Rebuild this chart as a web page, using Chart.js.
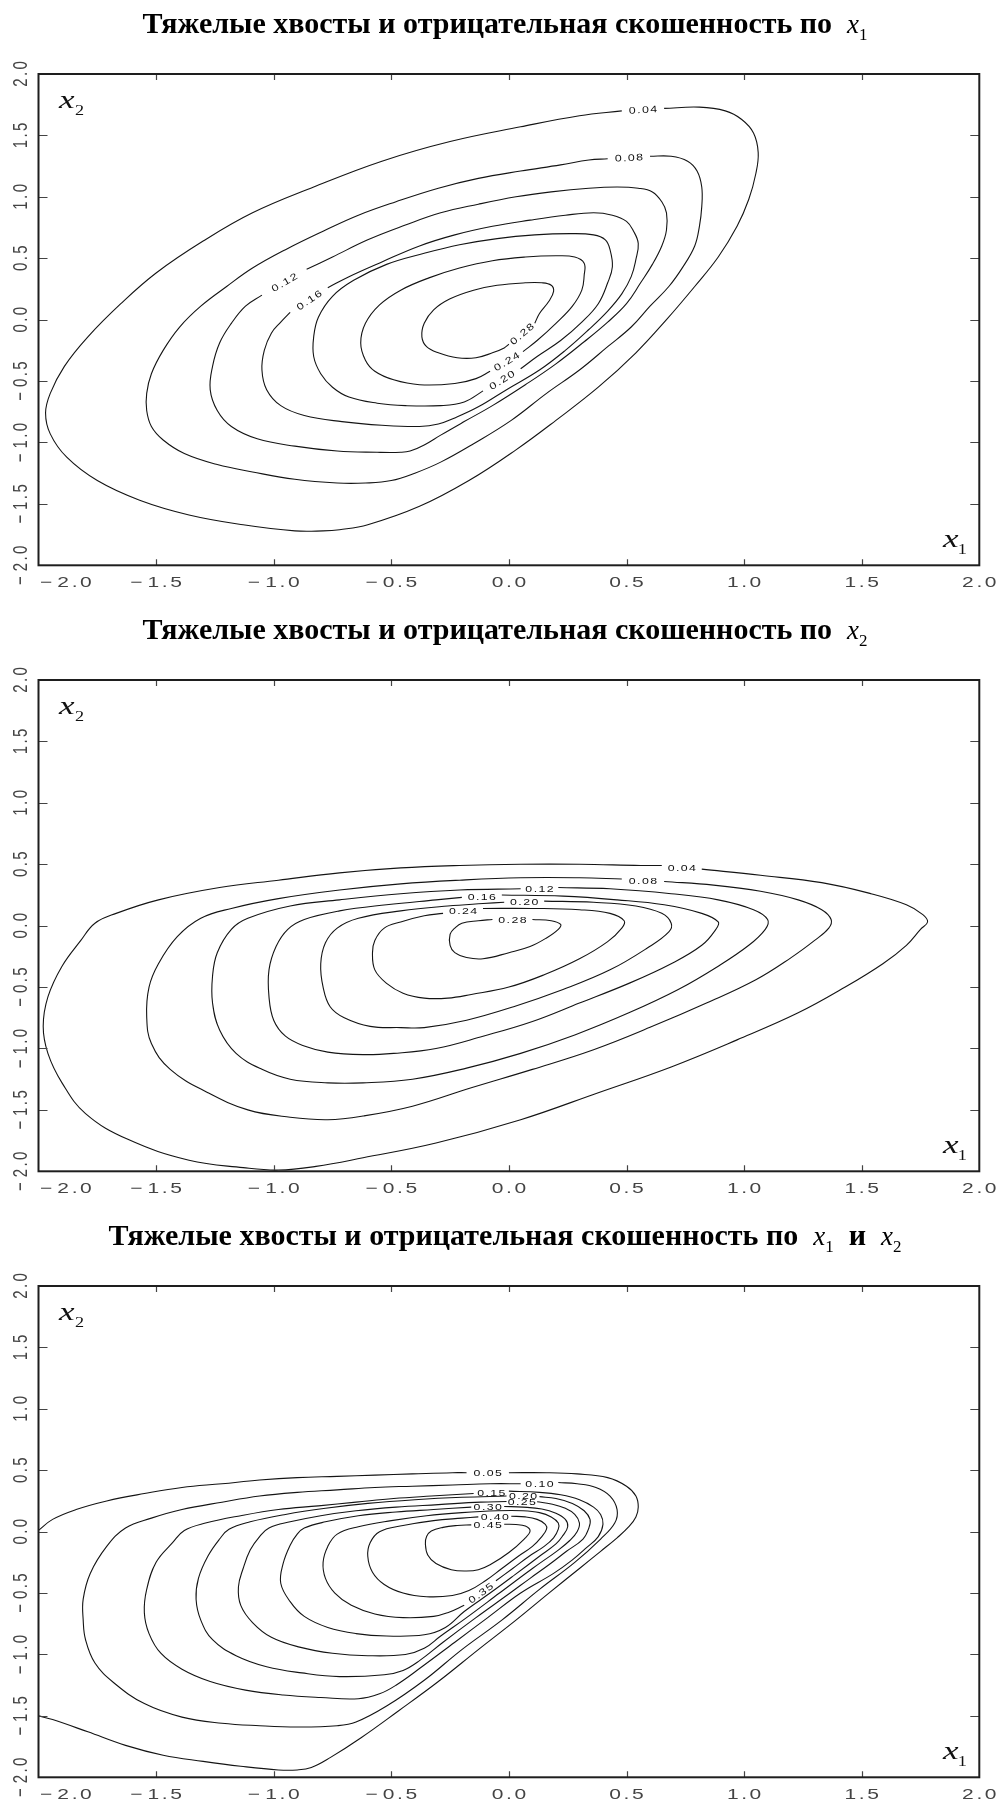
<!DOCTYPE html>
<html>
<head>
<meta charset="utf-8">
<script src="https://cdn.jsdelivr.net/npm/chart.js@4"></script>
<style>
  html, body { margin: 0; padding: 0; background: #fff; overflow: hidden; }
  .panel { position: absolute; left: 0; width: 1003px; height: 606px; }
  canvas { display: block; }
</style>
</head>
<body>
<div class="panel" style="top:0"><canvas id="c1" width="1003" height="606"></canvas></div>
<div class="panel" style="top:606px"><canvas id="c2" width="1003" height="606"></canvas></div>
<div class="panel" style="top:1212px"><canvas id="c3" width="1003" height="606"></canvas></div>
<script>
// Axis ticks shared by all three panels
const tickValues = [-2, -1.5, -1, -0.5, 0, 0.5, 1, 1.5, 2];
const tickLabels = ['−2.0', '−1.5', '−1.0', '−0.5', '0.0', '0.5', '1.0', '1.5', '2.0'];

const titleText = 'Тяжелые хвосты и отрицательная скошенность по';

// ---------- Panel 1: density contours, skew in x1 (levels 0.04 ... 0.28) ----------
const p1_04 = [[0.66,1.72],[0.81,1.73],[0.92,1.70],[0.99,1.63],[1.04,1.52],[1.06,1.36],[1.05,1.19],[1.02,0.98],[0.97,0.76],[0.89,0.51],[0.79,0.27],[0.67,0.00],[0.54,-0.27],[0.38,-0.55],[0.20,-0.82],[0.03,-1.06],[-0.17,-1.31],[-0.38,-1.52],[-0.60,-1.67],[-0.72,-1.71],[-0.79,-1.72],[-0.91,-1.72],[-1.13,-1.67],[-1.36,-1.59],[-1.57,-1.47],[-1.75,-1.31],[-1.88,-1.12],[-1.95,-0.93],[-1.97,-0.76],[-1.95,-0.60],[-1.89,-0.38],[-1.79,-0.14],[-1.65,0.13],[-1.50,0.38],[-1.30,0.64],[-1.09,0.87],[-0.83,1.08],[-0.54,1.29],[-0.25,1.45],[0.05,1.57],[0.30,1.66],[0.48,1.70]];
const p1_08 = [[0.60,1.33],[0.69,1.33],[0.76,1.29],[0.80,1.21],[0.82,1.08],[0.82,0.92],[0.81,0.76],[0.79,0.60],[0.74,0.43],[0.68,0.27],[0.60,0.11],[0.52,-0.06],[0.42,-0.22],[0.30,-0.41],[0.16,-0.60],[0.01,-0.82],[-0.15,-1.01],[-0.29,-1.16],[-0.40,-1.25],[-0.50,-1.31],[-0.61,-1.33],[-0.73,-1.33],[-0.91,-1.30],[-1.09,-1.24],[-1.24,-1.18],[-1.38,-1.09],[-1.47,-0.98],[-1.52,-0.87],[-1.54,-0.74],[-1.54,-0.60],[-1.52,-0.44],[-1.47,-0.25],[-1.40,-0.06],[-1.31,0.11],[-1.20,0.27],[-1.09,0.42],[-0.95,0.57],[-0.79,0.72],[-0.64,0.85],[-0.48,0.96],[-0.30,1.07],[-0.13,1.15],[0.05,1.21],[0.22,1.26],[0.34,1.30],[0.42,1.31]];
const p1_12 = [[-0.86,0.41],[-0.75,0.51],[-0.60,0.65],[-0.44,0.77],[-0.29,0.87],[-0.13,0.94],[0.03,1.00],[0.18,1.04],[0.34,1.07],[0.46,1.08],[0.55,1.07],[0.61,1.04],[0.65,0.96],[0.67,0.87],[0.67,0.73],[0.65,0.60],[0.61,0.45],[0.56,0.30],[0.50,0.13],[0.42,-0.02],[0.32,-0.18],[0.20,-0.36],[0.07,-0.53],[-0.07,-0.70],[-0.19,-0.83],[-0.29,-0.94],[-0.36,-1.02],[-0.42,-1.07],[-0.46,-1.08],[-0.56,-1.08],[-0.73,-1.07],[-0.91,-1.03],[-1.07,-0.97],[-1.18,-0.87],[-1.24,-0.74],[-1.27,-0.57],[-1.26,-0.38],[-1.23,-0.19],[-1.18,-0.03],[-1.12,0.11],[-1.05,0.20]];
const p1_16 = [[-0.77,0.26],[-0.68,0.35],[-0.54,0.47],[-0.38,0.60],[-0.23,0.69],[-0.07,0.76],[0.09,0.81],[0.24,0.85],[0.36,0.87],[0.44,0.85],[0.50,0.80],[0.53,0.72],[0.55,0.62],[0.54,0.49],[0.52,0.35],[0.48,0.21],[0.42,0.07],[0.34,-0.08],[0.24,-0.25],[0.13,-0.41],[-0.01,-0.57],[-0.13,-0.71],[-0.23,-0.80],[-0.30,-0.85],[-0.38,-0.87],[-0.54,-0.86],[-0.71,-0.83],[-0.87,-0.78],[-0.97,-0.70],[-1.03,-0.57],[-1.05,-0.41],[-1.04,-0.25],[-1.01,-0.11],[-0.97,-0.02],[-0.93,0.06]];
const p1_20 = [[0.05,-0.40],[0.12,-0.30],[0.22,-0.17],[0.31,-0.02],[0.38,0.13],[0.42,0.30],[0.44,0.43],[0.43,0.57],[0.41,0.65],[0.36,0.69],[0.26,0.70],[0.11,0.69],[-0.05,0.66],[-0.21,0.61],[-0.36,0.54],[-0.52,0.45],[-0.66,0.32],[-0.75,0.19],[-0.81,0.02],[-0.83,-0.14],[-0.83,-0.30],[-0.80,-0.44],[-0.75,-0.55],[-0.68,-0.63],[-0.56,-0.68],[-0.44,-0.70],[-0.29,-0.70],[-0.19,-0.67],[-0.11,-0.58]];
const p1_24 = [[0.06,-0.26],[0.12,-0.17],[0.20,-0.03],[0.27,0.11],[0.31,0.24],[0.32,0.36],[0.32,0.46],[0.28,0.51],[0.20,0.52],[0.07,0.51],[-0.07,0.48],[-0.21,0.42],[-0.34,0.34],[-0.46,0.24],[-0.55,0.12],[-0.61,-0.03],[-0.63,-0.19],[-0.61,-0.33],[-0.57,-0.42],[-0.49,-0.49],[-0.38,-0.53],[-0.23,-0.52],[-0.14,-0.48],[-0.08,-0.42]];
const p1_28 = [[0.11,-0.03],[0.13,0.05],[0.17,0.15],[0.19,0.23],[0.18,0.28],[0.14,0.30],[0.07,0.30],[-0.05,0.28],[-0.15,0.24],[-0.25,0.17],[-0.32,0.08],[-0.36,-0.03],[-0.37,-0.14],[-0.35,-0.22],[-0.30,-0.27],[-0.22,-0.31],[-0.14,-0.31],[-0.07,-0.27],[-0.02,-0.23],[0.00,-0.20]];
// level text, anchor (x1, x2), text angle in degrees
const p1Labels = [['0.04',0.57,1.71,-3.5],['0.08',0.51,1.32,-2.5],['0.12',-0.955,0.305,-30],['0.16',-0.85,0.16,-34],['0.20',-0.03,-0.49,-32],['0.24',-0.01,-0.34,-31],['0.28',0.055,-0.115,-40]];

// ---------- Panel 2: skew in x2 (levels 0.04 ... 0.28) ----------
const p2_04 = [[0.82,0.46],[1.07,0.41],[1.33,0.35],[1.54,0.26],[1.69,0.17],[1.76,0.09],[1.78,0.03],[1.75,-0.03],[1.69,-0.16],[1.59,-0.31],[1.43,-0.50],[1.23,-0.71],[0.97,-0.93],[0.69,-1.15],[0.38,-1.36],[0.05,-1.58],[-0.31,-1.77],[-0.62,-1.89],[-0.82,-1.96],[-0.98,-1.99],[-1.13,-1.97],[-1.36,-1.91],[-1.62,-1.74],[-1.80,-1.53],[-1.90,-1.28],[-1.96,-1.04],[-1.98,-0.82],[-1.96,-0.58],[-1.90,-0.33],[-1.82,-0.12],[-1.76,0.02],[-1.67,0.10],[-1.49,0.21],[-1.23,0.31],[-0.98,0.37],[-0.72,0.43],[-0.46,0.47],[-0.21,0.49],[0.05,0.50],[0.30,0.50],[0.56,0.49],[0.65,0.49]];
const p2_08 = [[0.66,0.36],[0.87,0.33],[1.07,0.28],[1.23,0.21],[1.33,0.13],[1.37,0.05],[1.36,-0.02],[1.30,-0.12],[1.20,-0.26],[1.05,-0.44],[0.84,-0.63],[0.61,-0.82],[0.36,-1.01],[0.10,-1.17],[-0.16,-1.32],[-0.41,-1.47],[-0.62,-1.55],[-0.77,-1.58],[-0.93,-1.56],[-1.11,-1.50],[-1.28,-1.36],[-1.44,-1.17],[-1.52,-0.96],[-1.54,-0.74],[-1.53,-0.50],[-1.49,-0.31],[-1.41,-0.09],[-1.31,0.06],[-1.18,0.14],[-0.98,0.22],[-0.72,0.29],[-0.46,0.34],[-0.21,0.37],[0.05,0.39],[0.30,0.39],[0.48,0.38]];
const p2_12 = [[0.21,0.31],[0.43,0.30],[0.69,0.26],[0.89,0.21],[1.04,0.13],[1.10,0.05],[1.09,-0.03],[1.02,-0.16],[0.89,-0.33],[0.72,-0.52],[0.51,-0.71],[0.28,-0.89],[0.05,-1.04],[-0.18,-1.16],[-0.41,-1.25],[-0.62,-1.28],[-0.77,-1.28],[-0.93,-1.25],[-1.05,-1.17],[-1.16,-1.04],[-1.23,-0.85],[-1.26,-0.63],[-1.26,-0.41],[-1.24,-0.22],[-1.18,-0.03],[-1.11,0.06],[-0.93,0.16],[-0.72,0.21],[-0.46,0.26],[-0.21,0.29],[0.05,0.30]];
const p2_16 = [[-0.03,0.25],[0.23,0.24],[0.46,0.21],[0.66,0.17],[0.82,0.10],[0.89,0.03],[0.88,-0.03],[0.82,-0.16],[0.69,-0.31],[0.51,-0.47],[0.30,-0.63],[0.10,-0.78],[-0.11,-0.90],[-0.31,-1.00],[-0.49,-1.04],[-0.62,-1.05],[-0.77,-1.03],[-0.87,-0.98],[-0.95,-0.90],[-1.00,-0.77],[-1.02,-0.58],[-1.02,-0.36],[-0.99,-0.17],[-0.94,-0.03],[-0.87,0.05],[-0.72,0.12],[-0.52,0.17],[-0.31,0.21],[-0.20,0.23]];
const p2_20 = [[0.15,0.20],[0.36,0.19],[0.54,0.16],[0.65,0.10],[0.69,0.02],[0.68,-0.05],[0.59,-0.18],[0.43,-0.36],[0.23,-0.52],[0.02,-0.66],[-0.18,-0.77],[-0.36,-0.83],[-0.46,-0.83],[-0.59,-0.82],[-0.70,-0.75],[-0.76,-0.66],[-0.79,-0.50],[-0.80,-0.31],[-0.78,-0.14],[-0.73,-0.02],[-0.64,0.06],[-0.46,0.12],[-0.26,0.16],[-0.11,0.18],[-0.02,0.19]];
const p2_24 = [[-0.11,0.14],[0.10,0.14],[0.30,0.13],[0.43,0.10],[0.49,0.04],[0.48,-0.02],[0.42,-0.13],[0.30,-0.27],[0.15,-0.40],[0.00,-0.50],[-0.16,-0.56],[-0.26,-0.59],[-0.36,-0.59],[-0.45,-0.55],[-0.52,-0.47],[-0.57,-0.36],[-0.58,-0.22],[-0.57,-0.12],[-0.53,-0.02],[-0.46,0.03],[-0.36,0.08],[-0.28,0.10]];
const p2_28 = [[0.10,0.05],[0.18,0.04],[0.22,0.01],[0.21,-0.03],[0.16,-0.10],[0.09,-0.17],[0.00,-0.22],[-0.11,-0.27],[-0.18,-0.26],[-0.23,-0.22],[-0.25,-0.16],[-0.25,-0.07],[-0.23,-0.02],[-0.20,0.02],[-0.13,0.04],[-0.07,0.05]];
const p2Labels = [['0.04',0.735,0.475,0],['0.08',0.57,0.37,0],['0.12',0.13,0.305,0],['0.16',-0.115,0.24,0],['0.20',0.065,0.195,0],['0.24',-0.195,0.12,0],['0.28',0.015,0.05,0]];

// ---------- Panel 3: skew in x1 and x2 (levels 0.05 ... 0.45) ----------
const p3_05a = [[0.00,0.48],[0.16,0.48],[0.29,0.47],[0.42,0.44],[0.50,0.37],[0.54,0.29],[0.55,0.20],[0.54,0.12],[0.51,0.04],[0.46,-0.05],[0.39,-0.16],[0.30,-0.30],[0.17,-0.50],[0.03,-0.72],[-0.13,-0.96],[-0.30,-1.22],[-0.47,-1.46],[-0.63,-1.68],[-0.76,-1.84],[-0.84,-1.92],[-0.90,-1.94],[-0.98,-1.94],[-1.14,-1.91],[-1.30,-1.87],[-1.47,-1.82],[-1.63,-1.74],[-1.79,-1.63],[-1.94,-1.53],[-2.00,-1.50]];
const p3_05b = [[-2.00,0.01],[-1.94,0.10],[-1.84,0.18],[-1.71,0.25],[-1.55,0.31],[-1.39,0.36],[-1.22,0.39],[-1.06,0.42],[-0.90,0.44],[-0.73,0.45],[-0.57,0.46],[-0.41,0.47],[-0.24,0.48],[-0.18,0.48]];
const p3_10 = [[0.21,0.40],[0.29,0.39],[0.37,0.36],[0.43,0.29],[0.46,0.18],[0.45,0.07],[0.39,-0.06],[0.28,-0.25],[0.13,-0.47],[-0.03,-0.72],[-0.20,-0.96],[-0.36,-1.21],[-0.52,-1.42],[-0.65,-1.55],[-0.73,-1.58],[-0.90,-1.59],[-1.06,-1.58],[-1.22,-1.56],[-1.39,-1.51],[-1.55,-1.40],[-1.68,-1.23],[-1.76,-1.07],[-1.80,-0.88],[-1.81,-0.72],[-1.81,-0.55],[-1.78,-0.34],[-1.71,-0.12],[-1.63,0.03],[-1.52,0.11],[-1.39,0.18],[-1.22,0.24],[-1.06,0.29],[-0.90,0.32],[-0.73,0.34],[-0.57,0.36],[-0.41,0.37],[-0.24,0.38],[-0.08,0.39],[0.05,0.39]];
const p3_15 = [[0.00,0.33],[0.13,0.32],[0.22,0.30],[0.30,0.26],[0.36,0.20],[0.39,0.14],[0.40,0.06],[0.38,-0.04],[0.33,-0.13],[0.27,-0.23],[0.19,-0.34],[0.05,-0.50],[-0.09,-0.70],[-0.23,-0.90],[-0.37,-1.10],[-0.48,-1.25],[-0.55,-1.32],[-0.64,-1.36],[-0.80,-1.35],[-0.96,-1.33],[-1.12,-1.29],[-1.27,-1.22],[-1.39,-1.12],[-1.48,-0.99],[-1.53,-0.83],[-1.55,-0.66],[-1.54,-0.47],[-1.50,-0.25],[-1.43,-0.09],[-1.38,0.01],[-1.29,0.07],[-1.14,0.13],[-0.98,0.18],[-0.81,0.21],[-0.65,0.24],[-0.49,0.27],[-0.33,0.29],[-0.15,0.31]];
const p3_20 = [[0.13,0.285],[0.20,0.27],[0.27,0.23],[0.32,0.17],[0.345,0.10],[0.34,0.03],[0.315,-0.06],[0.245,-0.16],[0.17,-0.27],[0.09,-0.38],[0.005,-0.50],[-0.14,-0.70],[-0.28,-0.90],[-0.38,-1.05],[-0.45,-1.13],[-0.53,-1.165],[-0.72,-1.18],[-0.88,-1.15],[-1.03,-1.10],[-1.16,-1.01],[-1.26,-0.88],[-1.31,-0.72],[-1.33,-0.55],[-1.32,-0.38],[-1.28,-0.20],[-1.23,-0.06],[-1.19,0.02],[-1.10,0.08],[-0.95,0.14],[-0.78,0.19],[-0.60,0.23],[-0.40,0.26],[-0.20,0.28],[-0.01,0.29]];
const p3_25 = [[0.12,0.243],[0.18,0.225],[0.24,0.19],[0.28,0.14],[0.30,0.07],[0.29,0.00],[0.26,-0.07],[0.21,-0.15],[0.10,-0.30],[-0.04,-0.50],[-0.18,-0.70],[-0.29,-0.85],[-0.36,-0.95],[-0.44,-1.00],[-0.60,-1.01],[-0.75,-0.99],[-0.89,-0.94],[-1.01,-0.86],[-1.09,-0.74],[-1.14,-0.60],[-1.15,-0.45],[-1.13,-0.30],[-1.10,-0.15],[-1.06,-0.04],[-1.02,0.03],[-0.93,0.08],[-0.80,0.13],[-0.65,0.17],[-0.48,0.20],[-0.30,0.22],[-0.12,0.24],[-0.01,0.245]];
const p3_30 = [[-0.02,0.205],[0.06,0.20],[0.14,0.185],[0.20,0.15],[0.24,0.10],[0.25,0.04],[0.23,-0.03],[0.20,-0.10],[0.13,-0.20],[0.026,-0.35],[-0.08,-0.50],[-0.19,-0.65],[-0.27,-0.78],[-0.36,-0.84],[-0.52,-0.85],[-0.65,-0.83],[-0.77,-0.78],[-0.87,-0.69],[-0.93,-0.57],[-0.97,-0.42],[-0.96,-0.26],[-0.93,-0.11],[-0.90,-0.02],[-0.87,0.03],[-0.78,0.08],[-0.64,0.13],[-0.48,0.16],[-0.32,0.18],[-0.16,0.20]];
const p3_35 = [[-0.055,-0.40],[0.016,-0.30],[0.086,-0.20],[0.15,-0.12],[0.19,-0.05],[0.21,0.02],[0.21,0.07],[0.18,0.12],[0.13,0.155],[0.06,0.17],[-0.05,0.17],[-0.20,0.155],[-0.35,0.13],[-0.50,0.09],[-0.64,0.04],[-0.73,-0.02],[-0.77,-0.12],[-0.79,-0.25],[-0.78,-0.38],[-0.74,-0.50],[-0.67,-0.60],[-0.57,-0.67],[-0.45,-0.70],[-0.32,-0.69],[-0.26,-0.66],[-0.19,-0.60]];
const p3_40 = [[0.01,0.125],[0.07,0.12],[0.12,0.10],[0.155,0.06],[0.16,0.02],[0.14,-0.04],[0.10,-0.12],[0.04,-0.20],[-0.03,-0.30],[-0.10,-0.40],[-0.17,-0.48],[-0.24,-0.52],[-0.35,-0.53],[-0.45,-0.50],[-0.53,-0.43],[-0.58,-0.33],[-0.60,-0.20],[-0.59,-0.09],[-0.55,0.00],[-0.45,0.05],[-0.32,0.09],[-0.20,0.11],[-0.13,0.12]];
const p3_45 = [[-0.02,0.06],[0.03,0.058],[0.07,0.045],[0.09,0.005],[0.065,-0.06],[0.00,-0.17],[-0.08,-0.27],[-0.13,-0.31],[-0.18,-0.32],[-0.245,-0.31],[-0.31,-0.26],[-0.345,-0.19],[-0.355,-0.10],[-0.35,-0.04],[-0.33,0.005],[-0.28,0.035],[-0.22,0.05],[-0.16,0.055]];
const p3Labels = [['0.05',-0.09,0.48,0],['0.10',0.13,0.395,0],['0.15',-0.075,0.32,0],['0.20',0.06,0.29,0],['0.25',0.055,0.243,0],['0.30',-0.09,0.20,0],['0.35',-0.12,-0.50,-36],['0.40',-0.06,0.12,0],['0.45',-0.09,0.058,0]];

// Draw a string character by character with extra tracking and a stretch factor.
function spaced(ctx, str, cx, cy, o) {
  const sx = o.sx || 1, sy = o.sy || 1;
  ctx.save();
  ctx.font = o.font;
  const chars = Array.from(str);
  const w = chars.map(ch => ctx.measureText(ch).width);
  const adv = chars.map((ch, i) => w[i] + (i < chars.length - 1 ? ((o.gap || 0) + (ch === '−' ? (o.minusGap || 0) : 0)) / sx : 0));
  const total = adv.reduce((s, v) => s + v, 0);
  let px = cx;
  if (o.minLeft !== undefined && !o.rot && o.align !== 'left') {
    px = Math.max(cx, o.minLeft + total * sx / 2);
  }
  ctx.translate(px, cy);
  if (o.rot) ctx.rotate(o.rot);
  ctx.scale(sx, sy);
  ctx.fillStyle = o.color || '#222';
  ctx.textAlign = 'left';
  ctx.textBaseline = 'alphabetic';
  let x = o.align === 'left' ? 0 : -total / 2;
  const base = o.capH ? o.capH / 2 : 0;
  chars.forEach((ch, i) => { ctx.fillText(ch, x, base); x += adv[i]; });
  ctx.restore();
  return total * sx;
}

const titleFonts = {
  b: 'bold 30px "Liberation Serif"',
  i: 'italic 27px "Liberation Serif"',
  s: '17px "Liberation Serif"'
};

function makeDecor(labels, title) {
  return {
    id: 'decor',
    afterDatasetsDraw(chart) {
      const { ctx, chartArea: a } = chart;
      const xs = chart.scales.x, ys = chart.scales.y;

      // contour level labels
      labels.forEach(l => {
        spaced(ctx, l[0], xs.getPixelForValue(l[1]), ys.getPixelForValue(l[2]), {
          font: '9.5px "Liberation Sans"', sx: 1.3, gap: 1.4, capH: 6.8,
          rot: (l[3] || 0) * Math.PI / 180, color: '#111'
        });
      });

      // inward tick marks on all four sides
      ctx.save();
      ctx.strokeStyle = '#444';
      ctx.lineWidth = 1.2;
      ctx.beginPath();
      tickValues.forEach(v => {
        if (v <= -2 || v >= 2) return;
        const px = Math.round(xs.getPixelForValue(v)) + 0.5;
        ctx.moveTo(px, a.bottom); ctx.lineTo(px, a.bottom - 6);
        ctx.moveTo(px, a.top); ctx.lineTo(px, a.top + 6);
        const py = Math.round(ys.getPixelForValue(v)) + 0.5;
        ctx.moveTo(a.left, py); ctx.lineTo(a.left + 9, py);
        ctx.moveTo(a.right, py); ctx.lineTo(a.right - 9, py);
      });
      ctx.stroke();

      // frame
      ctx.strokeStyle = '#1e1e1e';
      ctx.lineWidth = 2;
      ctx.strokeRect(a.left, a.top, a.right - a.left, a.bottom - a.top);
      ctx.restore();

      // tick labels
      tickValues.forEach((v, i) => {
        spaced(ctx, tickLabels[i], xs.getPixelForValue(v), a.bottom + 16.4, {
          font: '15px "Liberation Sans"', sx: 1.4, gap: 2.6, minusGap: 2.5, capH: 10.7,
          color: '#444', minLeft: a.left + 1.5
        });
        spaced(ctx, tickLabels[i], 19.5, ys.getPixelForValue(v), {
          font: '15px "Liberation Sans"', sx: 1, sy: 1.4, gap: 2.4, minusGap: 2.5, capH: 10.7,
          color: '#444', rot: -Math.PI / 2
        });
      });

      // axis names
      spaced(ctx, 'x', a.left + 20.5, a.top + 34.3, { font: 'italic 26px "Liberation Serif"', sx: 1.35, align: 'left', color: '#111' });
      spaced(ctx, '2', a.left + 36.5, a.top + 41.3, { font: '14px "Liberation Serif"', sx: 1.3, align: 'left', color: '#111' });
      spaced(ctx, 'x', a.right - 36.3, a.bottom - 18.3, { font: 'italic 26px "Liberation Serif"', sx: 1.35, align: 'left', color: '#111' });
      spaced(ctx, '1', a.right - 21.5, a.bottom - 11.3, { font: '14px "Liberation Serif"', sx: 1.3, align: 'left', color: '#111' });

      // title with italic subscripted variables
      ctx.save();
      ctx.fillStyle = '#000';
      ctx.textBaseline = 'alphabetic';
      ctx.textAlign = 'left';
      const widths = title.map(seg => { ctx.font = titleFonts[seg[1]]; return ctx.measureText(seg[0]).width; });
      const total = widths.reduce((s, v) => s + v, 0);
      let tx = 505 - total / 2;
      title.forEach((seg, i) => {
        ctx.font = titleFonts[seg[1]];
        ctx.fillText(seg[0], tx, 32.5 + (seg[1] === 's' ? 7 : 0));
        tx += widths[i];
      });
      ctx.restore();
    }
  };
}

function makePanel(id, contours, labels, title) {
  new Chart(document.getElementById(id), {
    type: 'scatter',
    data: {
      datasets: contours.map(pts => ({
        data: pts.map(p => ({ x: p[0], y: p[1] })),
        showLine: true,
        borderColor: '#141414',
        borderWidth: 1.1,
        pointRadius: 0,
        pointHoverRadius: 0,
        tension: 0.4,
        fill: false
      }))
    },
    options: {
      responsive: false,
      animation: false,
      devicePixelRatio: 1,
      events: [],
      layout: { padding: { left: 38.5, right: 23.7, top: 74, bottom: 40.7 } },
      scales: {
        x: { type: 'linear', min: -2, max: 2, display: false },
        y: { type: 'linear', min: -2, max: 2, display: false }
      },
      plugins: { legend: { display: false }, tooltip: { enabled: false } }
    },
    plugins: [makeDecor(labels, title)]
  });
}

makePanel('c1', [p1_04, p1_08, p1_12, p1_16, p1_20, p1_24, p1_28], p1Labels,
  [[titleText, 'b'], ['  ', 'b'], ['x', 'i'], ['1', 's']]);
makePanel('c2', [p2_04, p2_08, p2_12, p2_16, p2_20, p2_24, p2_28], p2Labels,
  [[titleText, 'b'], ['  ', 'b'], ['x', 'i'], ['2', 's']]);
makePanel('c3', [p3_05a, p3_05b, p3_10, p3_15, p3_20, p3_25, p3_30, p3_35, p3_40, p3_45], p3Labels,
  [[titleText, 'b'], ['  ', 'b'], ['x', 'i'], ['1', 's'], ['  и  ', 'b'], ['x', 'i'], ['2', 's']]);
</script>
</body>
</html>
